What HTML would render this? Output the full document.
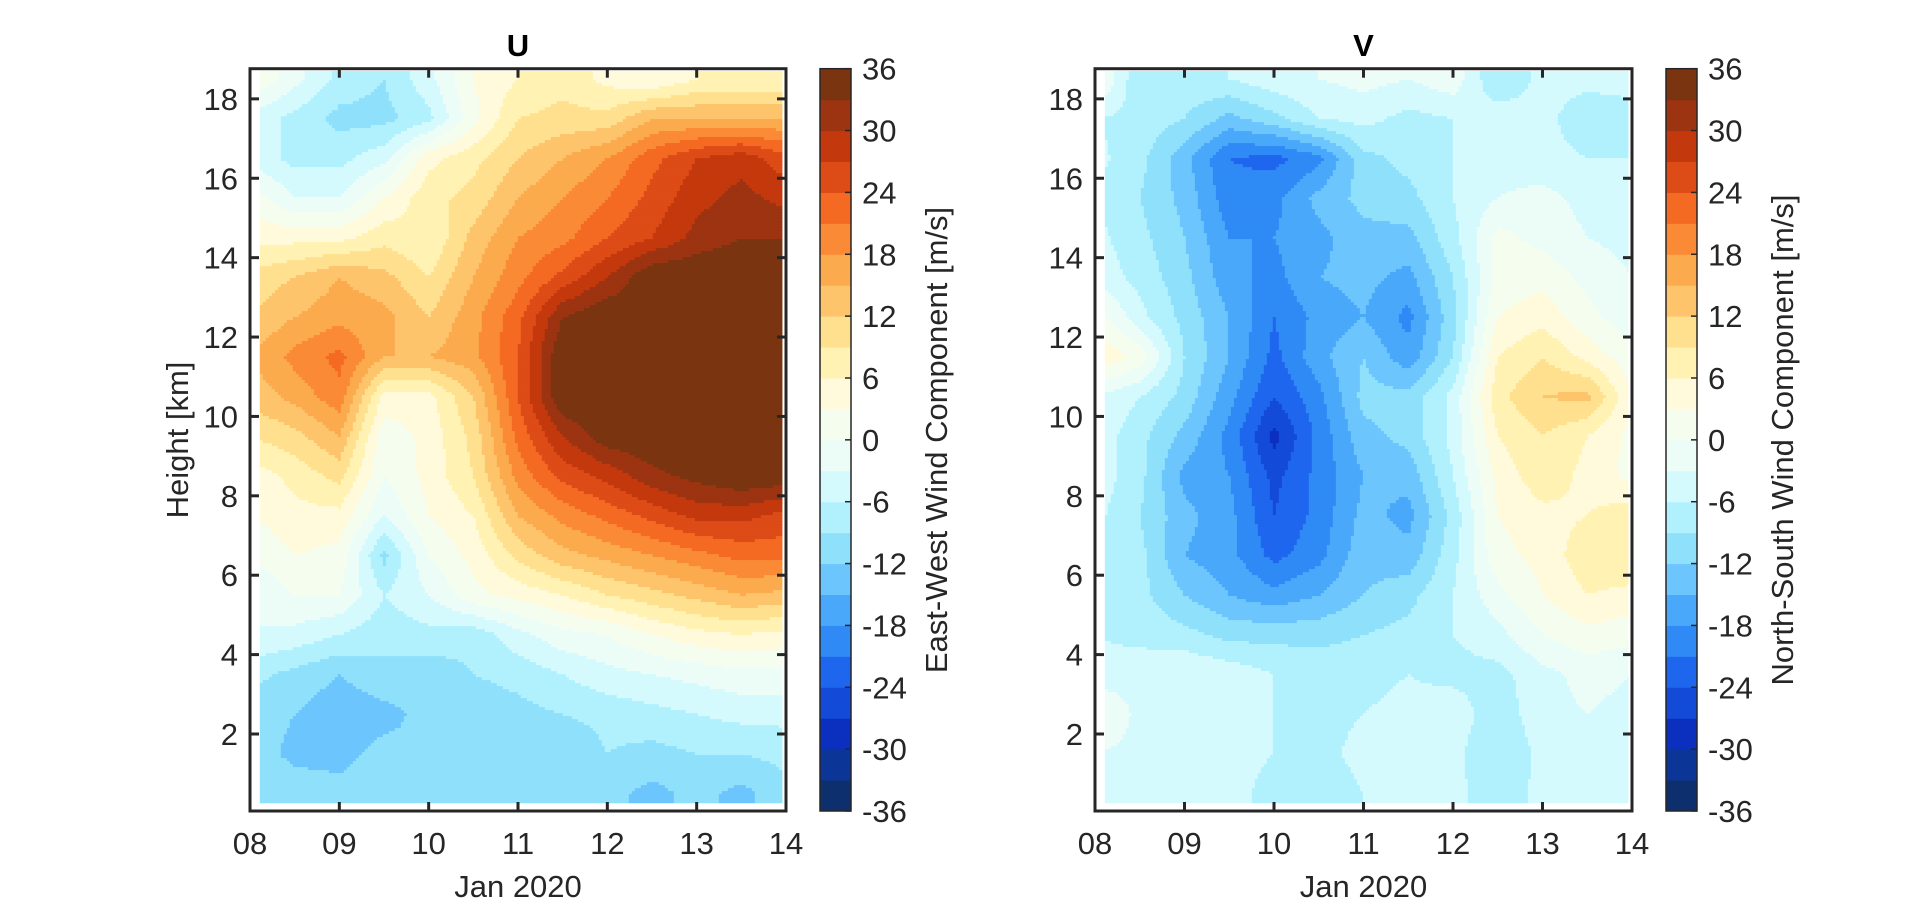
<!DOCTYPE html>
<html><head><meta charset="utf-8"><style>
html,body{margin:0;padding:0;background:#fff;}
svg text{font-family:"Liberation Sans",Arial,sans-serif;fill:#262626;}
</style></head><body>
<svg id="fig" width="1920" height="911" xmlns="http://www.w3.org/2000/svg"></svg>
<script>
// ---- data ----
const times=[8,8.5,9,9.5,10,10.5,11,11.5,12,12.5,13,13.5,14];
const heights=[18.5,17.5,16.5,15.5,14.5,13.5,12.5,11.5,10.5,9.5,8.5,7.5,6.5,5.5,4.5,3.5,2.5,1.5,0.5];
const uRows=[
[3,-2,-7,-9,-4,3,6,8,5,3,6,6,6],
[-4,-7,-10,-10,-7,2,9,10,10,15,15,15,15],
[-4,-7,-7,-4,5,8,12,15,18,23,27,29,25],
[2,-3,-3,3,8,10,15,18,21,25,29,31,29],
[5,5,5,8,6,13,18,20,24,27,31,33,33],
[10,12,15,13,9,15,20,25,30,36,36,36,36],
[12,15,17,16,12,17,23,33,36,33,36,36,36],
[15,19,22,15,15,17,24,36,36,33,36,36,36],
[13,16,20,5,5,12,24,36,36,36,36,36,36],
[9,11,15,1,4,10,22,30,35,36,36,36,36],
[4,7,10,0,4,9,19,25,28,32,34,36,35],
[3,5,5,-3,3,6,15,19,22,25,28,28,26],
[0,3,2,-10,0,4,10,14,16,18,20,22,22],
[-3,0,0,-6,-3,2,4,6,9,11,13,15,14],
[-3,-4,-6,-8,-7,-8,-4,-1,0,3,5,6,5],
[-8,-10,-12,-10,-11,-9,-8,-6,-4,-3,-2,-1,-1],
[-10,-12,-14,-13,-11,-11,-10,-9,-8,-7,-6,-5,-5],
[-10,-13,-13,-11,-12,-10,-11,-12,-9,-10,-9,-9,-8],
[-9,-10,-11,-10,-10,-9,-12,-12,-11,-13,-11,-13,-10]];
const vRows=[
[2,-9,-7,-6,-4,-3,-2,-3,-1,-9,-5,-5,-5],
[-6,-7,-9,-13,-10,-6,-5,-7,-6,-4,-5,-8,-7],
[-5,-8,-14,-21,-22,-19,-10,-8,-6,-4,-5,-6,-6],
[-6,-9,-13,-20,-19,-14,-11,-10,-6,-3,-2,-4,-4],
[-5,-8,-12,-18,-18,-16,-13,-13,-7,1,-1,-3,-4],
[-4,-7,-11,-17,-19,-15,-14,-16,-9,1,2,-1,-3],
[2,-5,-10,-15,-21,-17,-15,-19,-10,3,5,1,-2],
[6,2,-9,-15,-22,-16,-12,-17,-9,6,9,5,1],
[-3,-6,-10,-17,-24,-19,-11,-11,-5,8,12,13,3],
[-4,-8,-13,-19,-28,-20,-13,-11,-5,6,9,6,2],
[-4,-8,-16,-18,-25,-20,-15,-14,-6,4,8,5,2],
[-5,-9,-14,-17,-24,-20,-14,-16,-8,3,5,6,8],
[-6,-8,-15,-17,-22,-19,-13,-14,-7,2,4,8,9],
[-7,-8,-12,-15,-17,-15,-12,-10,-6,-1,3,6,5],
[-6,-7,-8,-10,-10,-10,-9,-8,-6,-4,0,2,1],
[-5,-4,-3,-4,-6,-7,-7,-6,-7,-7,-4,-2,-3],
[1,-4,-3,-5,-6,-7,-6,-5,-4,-8,-4,-3,-4],
[-3,-4,-4,-5,-6,-7,-5,-5,-5,-9,-5,-5,-4],
[-4,-5,-4,-5,-7,-8,-6,-5,-5,-8,-5,-4,-4]];
const xTickLabels=["08","09","10","11","12","13","14"];
const yTickLabels=["2","4","6","8","10","12","14","16","18"];
const cbTickLabels=["-36","-30","-24","-18","-12","-6","0","6","12","18","24","30","36"];
const levelColors=["#0e2f6d","#0b3596","#0b30c0","#144ad8","#1f66ee","#2f8af5","#4aa8fb","#6cc6fd","#8fe0fb","#b1f1fe","#d4fafe","#ecfdf8","#f5fdef","#fffadb","#fff2b3","#ffe08f","#fdc46c","#fbaa4d","#fa8a35","#f46a22","#dd4b17","#c4380d","#9c3311","#7a3510"];

// ---- rendering ----
const NS="http://www.w3.org/2000/svg";
const svg=document.getElementById('fig');
function mk(tag,attrs,parent){const e=document.createElementNS(NS,tag);for(const k in attrs)e.setAttribute(k,attrs[k]);(parent||svg).appendChild(e);return e;}
const Y0=68.7,Y1=811,HMIN=0.06,HMAX=18.76,TMIN=8,TMAX=14;
function interp(rows,t,h){
  let fi=(t-times[0])/(times[1]-times[0]);fi=Math.max(0,Math.min(times.length-1.0001,fi));
  let fj=(heights[0]-h)/(heights[0]-heights[1]);fj=Math.max(0,Math.min(heights.length-1.0001,fj));
  const i=Math.floor(fi),j=Math.floor(fj),a=fi-i,b=fj-j;
  return rows[j][i]*(1-a)*(1-b)+rows[j][i+1]*a*(1-b)+rows[j+1][i]*(1-a)*b+rows[j+1][i+1]*a*b;
}
function levelIndex(v){return Math.max(0,Math.min(levelColors.length-1,Math.floor((v+36)/3)));}
function panel(X0,X1,CB0,rows,title,cbTitle,showYLabel,name){
  const g=mk('g',{});
  
  const xs=t=>X0+(t-TMIN)/(TMAX-TMIN)*(X1-X0);
  const ys=h=>Y1-(h-HMIN)/(HMAX-HMIN)*(Y1-Y0);
  const ti=x=>TMIN+(x-X0)/(X1-X0)*(TMAX-TMIN);
  const hi=y=>HMIN+(Y1-y)/(Y1-Y0)*(HMAX-HMIN);
  const cg=mk('g',{},g);
  
  const dx0=xs(8.11),dx1=xs(13.96),dy0=ys(18.7),dy1=ys(0.27),S=3;
  for(let y=dy0;y<dy1;y+=S){
    const hh=Math.min(S,dy1-y);let runStart=dx0,runLev=null;
    for(let x=dx0;x<=dx1;x+=S){
      const lev=x+S/2>dx1?null:levelIndex(interp(rows,ti(x+S/2),hi(y+hh/2)));
      if(lev!==runLev){
        if(runLev!==null){const r=mk('rect',{x:runStart,y:y,width:Math.min(x,dx1)-runStart+0.6,height:hh+0.6,fill:levelColors[runLev]},cg);
          }
        runStart=x;runLev=lev;
      }
    }
    if(runLev!==null){const r=mk('rect',{x:runStart,y:y,width:dx1-runStart,height:hh+0.6,fill:levelColors[runLev]},cg);
      }
  }
  const box=mk('rect',{x:X0,y:Y0,width:X1-X0,height:Y1-Y0,fill:'none',stroke:'#262626','stroke-width':3},g);
  
  xTickLabels.forEach((lb,k)=>{const x=xs(8+k);
    mk('line',{x1:x,x2:x,y1:Y1,y2:Y1-9,stroke:'#262626','stroke-width':3},g);
    mk('line',{x1:x,x2:x,y1:Y0,y2:Y0+9,stroke:'#262626','stroke-width':3},g);
    const t=mk('text',{x:x,y:854,'font-size':31,'text-anchor':'middle'},g);t.textContent=lb;
    });
  yTickLabels.forEach(lb=>{const y=ys(+lb);
    mk('line',{x1:X0,x2:X0+9,y1:y,y2:y,stroke:'#262626','stroke-width':3},g);
    mk('line',{x1:X1,x2:X1-9,y1:y,y2:y,stroke:'#262626','stroke-width':3},g);
    const t=mk('text',{x:X0-12,y:y+11,'font-size':31,'text-anchor':'end'},g);t.textContent=lb;
    });
  const xt=mk('text',{x:(X0+X1)/2,y:897,'font-size':31,'text-anchor':'middle'},g);xt.textContent='Jan 2020';
  
  const tt=mk('text',{x:(X0+X1)/2,y:56,'font-size':31,'font-weight':'bold','text-anchor':'middle',style:'fill:#000'},g);tt.textContent=title;
  
  if(showYLabel){const yl=mk('text',{x:0,y:0,'font-size':31,'text-anchor':'middle',transform:`translate(${X0-62},440) rotate(-90)`},g);yl.textContent='Height [km]';
    }
  const cb=mk('g',{},g);
  const CW=31,cv=v=>Y1-(v+36)/72*(Y1-Y0);
  levelColors.forEach((c,k)=>{const r=mk('rect',{x:CB0,y:cv(-36+3*(k+1)),width:CW,height:cv(-36+3*k)-cv(-36+3*(k+1))+0.5,fill:c},cb);
    });
  mk('rect',{x:CB0,y:Y0,width:CW,height:Y1-Y0,fill:'none',stroke:'#262626','stroke-width':1.5},cb);
  cbTickLabels.forEach(lb=>{const y=cv(+lb);
    mk('line',{x1:CB0+CW,x2:CB0+CW-6,y1:y,y2:y,stroke:'#262626','stroke-width':1.5},cb);
    const t=mk('text',{x:CB0+CW+11,y:y+11,'font-size':31},cb);t.textContent=lb;
    });
  const ct=mk('text',{x:0,y:0,'font-size':31,'text-anchor':'middle',transform:`translate(${CB0+127},440) rotate(-90)`},cb);ct.textContent=cbTitle;
  
}
panel(250,786,820,uRows,'U','East-West Wind Component [m/s]',true,'u');
panel(1095,1632,1666,vRows,'V','North-South Wind Component [m/s]',false,'v');
</script>
</body></html>
